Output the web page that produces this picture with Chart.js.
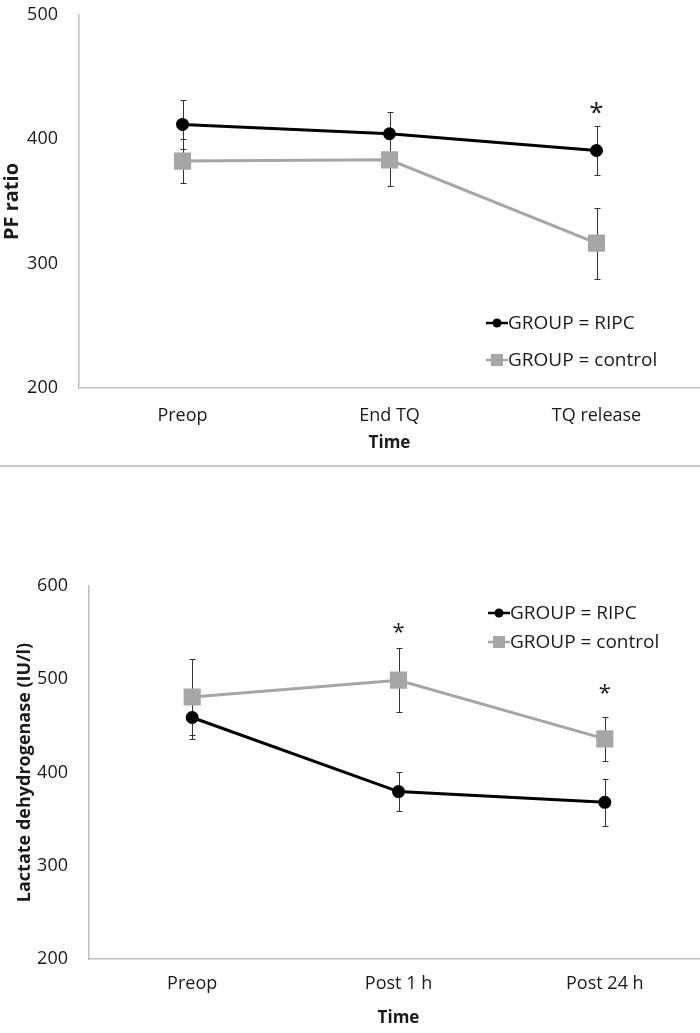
<!DOCTYPE html>
<html>
<head>
<meta charset="utf-8">
<script src="https://cdn.jsdelivr.net/npm/chart.js@4.4.0/dist/chart.umd.min.js"></script>
<style>
  html, body { margin: 0; padding: 0; background: #fff; overflow: hidden; }
  #top { position: absolute; left: 0; top: 0; width: 700px; height: 460px; }
  #sep { position: absolute; left: 0; top: 465px; width: 700px; height: 0; border-top: 2px solid #c6c6c6; }
  #bottom { position: absolute; left: 0; top: 470px; width: 708px; height: 563px; }
</style>
</head>
<body>
<div id="top"><canvas id="pfChart"></canvas></div>
<div id="sep"></div>
<div id="bottom"><canvas id="ldhChart"></canvas></div>
<script>
// PF ratio data
const pfLabels = ['Preop', 'End TQ', 'TQ release'];
const pfRipc = [412, 404.5, 391];
const pfRipcErr = [19.5, 17.5, 20];
const pfControl = [382.5, 383.5, 316.5];
const pfControlErr = [17.5, 21, 28.5];
const pfStars = [null, null, 425];
const pfTicks = [200, 300, 400, 500];

// Lactate dehydrogenase data
const ldhLabels = ['Preop', 'Post 1 h', 'Post 24 h'];
const ldhRipc = [459, 379.5, 368];
const ldhRipcErr = [23, 21, 25];
const ldhControl = [481, 499, 436];
const ldhControlErr = [41, 34, 24];
const ldhStars = [null, 555, 490];
const ldhTicks = [200, 300, 400, 500, 600];

const BLACK = '#000000';
const GREY = '#a6a6a6';
const AXIS = '#bfbfbf';
const TEXT = '#1a1a1a';
const FONT = "'Open Sans', sans-serif";

// Error bars drawn behind the markers
const errorBars = {
    id: 'errorBars',
    beforeDatasetsDraw(chart) {
        const { ctx, scales: { x, y } } = chart;
        ctx.save();
        ctx.strokeStyle = '#333';
        ctx.lineWidth = 1;
        chart.data.datasets.forEach(ds => {
            ds.data.forEach((v, i) => {
                const px = Math.round(x.getPixelForValue(i)) + 0.5;
                const top = Math.round(y.getPixelForValue(v + ds.errors[i])) + 0.5;
                const bot = Math.round(y.getPixelForValue(v - ds.errors[i])) + 0.5;
                ctx.beginPath();
                ctx.moveTo(px, top); ctx.lineTo(px, bot);
                ctx.moveTo(px - 3, top); ctx.lineTo(px + 3, top);
                ctx.moveTo(px - 3, bot); ctx.lineTo(px + 3, bot);
                ctx.stroke();
            });
        });
        ctx.restore();
    }
};

// Asterisks and the little legend in the corner
const extras = {
    id: 'extras',
    afterDraw(chart, args, opts) {
        const { ctx, scales: { x, y } } = chart;
        ctx.save();
        ctx.fillStyle = TEXT;
        ctx.font = opts.starSize + 'px ' + FONT;
        ctx.textAlign = 'center';
        ctx.textBaseline = 'middle';
        opts.stars.forEach((s, i) => {
            if (s === null) return;
            ctx.fillText('*', x.getPixelForValue(i), y.getPixelForValue(s) + opts.starSize * 0.22);
        });

        // legend
        ctx.font = '19px ' + FONT;
        ctx.textAlign = 'left';
        chart.data.datasets.forEach((ds, i) => {
            const ly = opts.legendY + i * opts.legendGap;
            const lx = opts.legendX;
            ctx.strokeStyle = ds.borderColor;
            ctx.lineWidth = 2.5;
            ctx.beginPath();
            ctx.moveTo(lx, ly); ctx.lineTo(lx + 22, ly);
            ctx.stroke();
            ctx.fillStyle = ds.borderColor;
            if (ds.pointStyle === 'rect') {
                ctx.fillRect(lx + 5, ly - 6, 12, 12);
            } else {
                ctx.beginPath();
                ctx.arc(lx + 11, ly, 4.5, 0, Math.PI * 2);
                ctx.fill();
            }
            ctx.fillStyle = TEXT;
            ctx.fillText(ds.label, lx + 22, ly + 1);
        });
        ctx.restore();
    }
};

function makeChart(id, labels, ripc, ripcErr, control, controlErr, ticks, yTitle, layout) {
    const ctx = document.getElementById(id).getContext('2d');
    return new Chart(ctx, {
        type: 'line',
        data: {
            labels: labels,
            datasets: [{
                label: 'GROUP = RIPC',
                data: ripc,
                errors: ripcErr,
                borderColor: BLACK,
                backgroundColor: BLACK,
                borderWidth: 3,
                pointStyle: 'circle',
                pointRadius: 5,
                tension: 0
            }, {
                label: 'GROUP = control',
                data: control,
                errors: controlErr,
                borderColor: GREY,
                backgroundColor: GREY,
                borderWidth: 3,
                pointStyle: 'rect',
                pointRadius: 10,
                tension: 0
            }]
        },
        options: {
            responsive: true,
            maintainAspectRatio: false,
            animation: false,
            layout: {
                autoPadding: false, // no extra room for the big markers
                padding: { top: layout.top, left: 0, right: 0, bottom: 0 }
            },
            plugins: {
                legend: { display: false },
                tooltip: { enabled: false },
                extras: layout.extras
            },
            scales: {
                x: {
                    offset: true,
                    // tick marks are hidden, their length just pushes the labels down
                    grid: { display: false, drawTicks: true, tickLength: layout.xTickPad },
                    border: { display: true, color: AXIS, width: 1.5 },
                    ticks: { color: TEXT, font: { family: FONT, size: 18 }, padding: 0 },
                    title: {
                        display: true, text: 'Time', color: TEXT,
                        font: { family: FONT, size: 17, weight: 'bold' },
                        padding: { top: 0, bottom: layout.xTitlePad }
                    },
                    afterFit: s => {
                        s.height = layout.xHeight;
                        s.paddingLeft = 0;
                        s.paddingRight = 0;
                    }
                },
                y: {
                    min: ticks[0],
                    max: ticks[ticks.length - 1],
                    grid: { display: false, drawTicks: true, tickLength: 21 },
                    border: { display: true, color: AXIS, width: 1.5 },
                    ticks: { stepSize: 100, color: TEXT, font: { family: FONT, size: 18 }, padding: 0 },
                    title: {
                        display: true, text: yTitle, color: TEXT,
                        font: { family: FONT, size: layout.yTitleSize, weight: 'bold' },
                        padding: { top: layout.yTitlePad, bottom: 0 }
                    },
                    afterFit: s => { s.width = layout.yWidth; }
                }
            }
        },
        plugins: [errorBars, extras]
    });
}

// Top chart
makeChart('pfChart', pfLabels, pfRipc, pfRipcErr, pfControl, pfControlErr, pfTicks, 'PF ratio', {
    top: 15, xHeight: 72, xTickPad: 17, xTitlePad: 7, yWidth: 79, yTitlePad: 0, yTitleSize: 20,
    extras: { stars: pfStars, starSize: 26, legendX: 486, legendY: 323, legendGap: 37 }
});

// Bottom chart
makeChart('ldhChart', ldhLabels, ldhRipc, ldhRipcErr, ldhControl, ldhControlErr, ldhTicks, 'Lactate dehydrogenase (IU/l)', {
    top: 116, xHeight: 74, xTickPad: 14, xTitlePad: 5, yWidth: 89, yTitlePad: 14, yTitleSize: 18,
    extras: { stars: ldhStars, starSize: 22, legendX: 488, legendY: 143, legendGap: 29 }
});
</script>
</body>
</html>
